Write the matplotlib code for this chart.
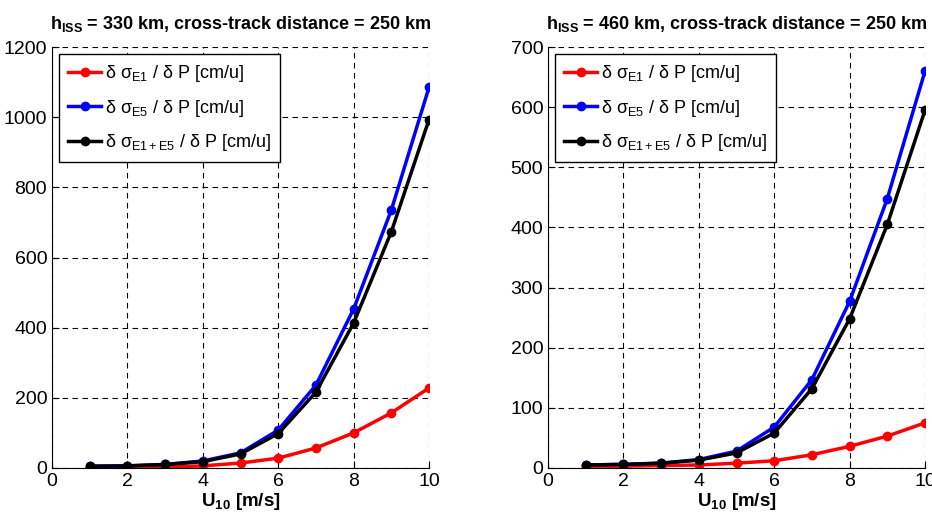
import numpy as np
import matplotlib
matplotlib.use('Agg')
import matplotlib.pyplot as plt

plt.rcParams['font.family'] = ['Liberation Sans', 'DejaVu Sans']
plt.rcParams['mathtext.fontset'] = 'custom'
plt.rcParams['mathtext.rm'] = 'Liberation Sans'
plt.rcParams['mathtext.bf'] = 'Liberation Sans:bold'
plt.rcParams['mathtext.it'] = 'Liberation Sans:italic'

# Datos
u10 = [1, 2, 3, 4, 5, 6, 7, 8, 9, 10]

# h_ISS = 330 km
e1_330 = [1, 2, 3, 6, 14, 28, 57, 100, 157, 228]
e5_330 = [5, 6, 10, 20, 43, 108, 236, 453, 735, 1085]
e15_330 = [5, 6, 10, 18, 40, 98, 216, 413, 673, 993]

# h_ISS = 460 km
e1_460 = [3, 3, 4, 5, 8, 12, 22, 36, 53, 75]
e5_460 = [5, 6, 8, 14, 28, 68, 147, 277, 448, 660]
e15_460 = [5, 6, 8, 13, 25, 58, 132, 248, 405, 595]

titles = [r'h$_{\mathbf{ISS}}$ = 330 km, cross-track distance = 250 km',
          r'h$_{\mathbf{ISS}}$ = 460 km, cross-track distance = 250 km']
labels = [r'δ σ$_{\mathrm{E1}}$ / δ P [cm/u]',
          r'δ σ$_{\mathrm{E5}}$ / δ P [cm/u]',
          r'δ σ$_{\mathrm{E1+E5}}$ / δ P [cm/u]']
ylims = [1200, 700]
ysteps = [200, 100]

fig = plt.figure(figsize=(9.32, 5.15), dpi=100)
ax1 = fig.add_axes([0.0558, 0.0913, 0.4045, 0.8174])
ax2 = fig.add_axes([0.588, 0.0913, 0.4045, 0.8174])

series = [(e1_330, e5_330, e15_330), (e1_460, e5_460, e15_460)]

for ax, (a, b, c), title, ymax, ystep in zip([ax1, ax2], series, titles, ylims, ysteps):
    ax.plot(u10, a, '-o', color='red', lw=2.5, ms=6, label=labels[0])
    ax.plot(u10, b, '-o', color='blue', lw=2.5, ms=6, label=labels[1])
    ax.plot(u10, c, '-o', color='black', lw=2.5, ms=6, label=labels[2])

    ax.set_xlim(0, 10)
    ax.set_ylim(0, ymax)
    ax.set_xticks(np.arange(0, 11, 2))
    ax.set_yticks(np.arange(0, ymax + 1, ystep))
    ax.grid(True, color='black', ls=(0, (5, 4)), lw=0.8)
    ax.set_axisbelow(True)
    ax.spines['top'].set_visible(False)
    ax.spines['right'].set_visible(False)
    ax.tick_params(direction='in', labelsize=14, length=5)
    ax.set_title(title, fontsize=13, fontweight='bold', pad=13)
    ax.set_xlabel(r'U$_{\mathbf{10}}$ [m/s]', fontsize=13.5, fontweight='bold', labelpad=1)

    leg = ax.legend(loc='upper left', fontsize=13, fancybox=False, framealpha=1,
                    edgecolor='black', handlelength=1.8, borderaxespad=0.4,
                    handletextpad=0.25, labelspacing=0.75, borderpad=0.5)
    leg.get_frame().set_linewidth(1.0)

fig.savefig('out.png', dpi=100)
